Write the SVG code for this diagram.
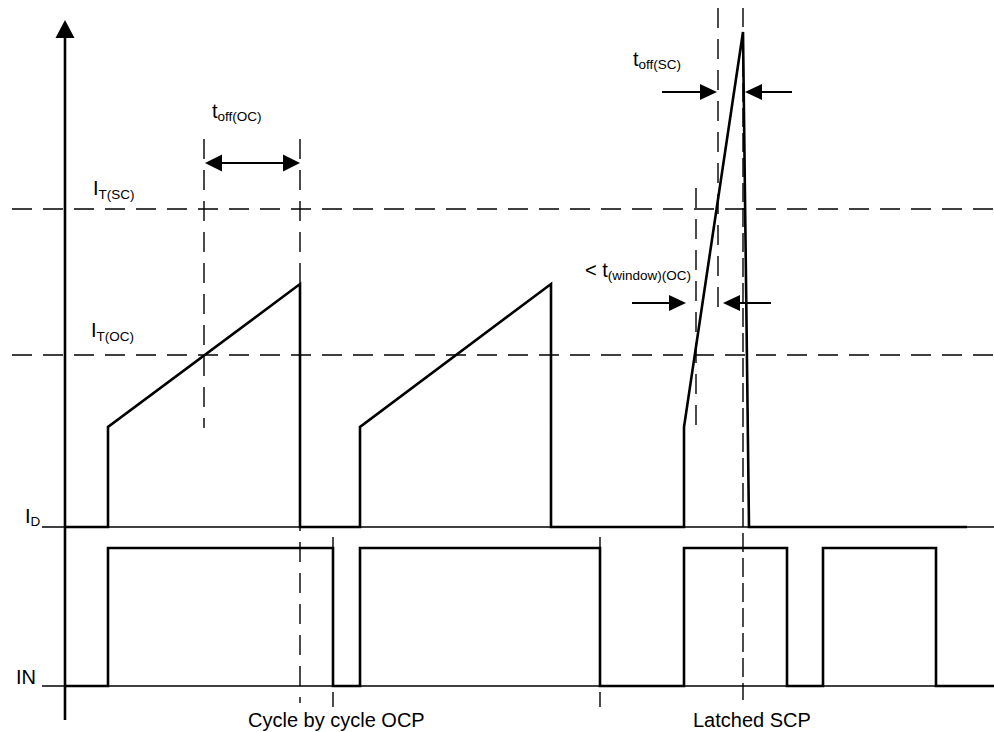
<svg xmlns="http://www.w3.org/2000/svg" width="994" height="732" viewBox="0 0 994 732">
<style>
  .txt { font-family: "Liberation Sans", Arial, sans-serif; font-size: 20px; fill: #000; }
  .sub { font-size: 13.5px; }
  .thick { fill: none; stroke: #000; stroke-width: 2.6; stroke-linejoin: miter; }
  .thin { fill: none; stroke: #000; stroke-width: 1.4; }
  .dash { fill: none; stroke: #000; stroke-width: 1.4; stroke-dasharray: 20 11; }
  .dash2 { fill: none; stroke: #000; stroke-width: 1.4; stroke-dasharray: 19 6; }
  .arr { fill: none; stroke: #000; stroke-width: 2; }
  .head { fill: #000; stroke: none; }
</style>
<rect width="994" height="732" fill="#fff"/>

<g id="axes">
  <line class="thick" x1="65" y1="36" x2="65" y2="720"/>
  <polygon class="head" points="65,20 55.5,38 74.5,38"/>
  <line class="thin" x1="42" y1="527" x2="994" y2="527"/>
  <line class="thin" x1="42" y1="686" x2="994" y2="686"/>
</g>

<g id="thresholds">
  <line class="dash" x1="12" y1="209" x2="994" y2="209"/>
  <line class="dash" x1="12" y1="355" x2="994" y2="355"/>
</g>

<g id="guides">
  <line class="dash" x1="204" y1="139" x2="204" y2="428"/>
  <line class="dash" x1="300" y1="139" x2="300" y2="703"/>
  <line class="dash" x1="333" y1="537" x2="333" y2="707"/>
  <line class="dash" x1="600" y1="537" x2="600" y2="707"/>
  <line class="dash" x1="696" y1="188" x2="696" y2="433"/>
  <line class="dash" x1="718" y1="8" x2="718" y2="317"/>
  <line class="dash2" x1="743" y1="8" x2="743" y2="700"/>
</g>

<g id="id-waveform">
  <polyline class="thick" points="65,527 108,527 108,427 300,284 300,527 360,527 360,427 551,284 551,527 684,527 684,427 743,32 749,527 967,527"/>
</g>

<g id="in-waveform">
  <polyline class="thick" points="65,686 108,686 108,548 333,548 333,686 360,686 360,548 600,548 600,686 684,686 684,548 787,548 787,686 823,686 823,548 936,548 936,686 994,686"/>
</g>

<g id="connectors">
  <g id="toff-oc-arrow">
    <line class="arr" x1="220" y1="163" x2="285" y2="163"/>
    <polygon class="head" points="205,163 222,154.5 222,171.5"/>
    <polygon class="head" points="300,163 283,154.5 283,171.5"/>
  </g>
  <g id="toff-sc-arrows">
    <line class="arr" x1="662" y1="92" x2="702" y2="92"/>
    <polygon class="head" points="717,92 700,84 700,100"/>
    <line class="arr" x1="760" y1="92" x2="792" y2="92"/>
    <polygon class="head" points="745,92 762,84 762,100"/>
  </g>
  <g id="window-arrows">
    <line class="arr" x1="632" y1="303" x2="671" y2="303"/>
    <polygon class="head" points="686,303 669,295 669,311"/>
    <line class="arr" x1="738" y1="303" x2="771" y2="303"/>
    <polygon class="head" points="723,303 740,295 740,311"/>
  </g>
</g>

<g id="labels">
  <text class="txt" x="212" y="118">t<tspan class="sub" dy="3">off(OC)</tspan></text>
  <text class="txt" x="633" y="66">t<tspan class="sub" dy="3">off(SC)</tspan></text>
  <text class="txt" x="93" y="195">I<tspan class="sub" dy="4">T(SC)</tspan></text>
  <text class="txt" x="91" y="337">I<tspan class="sub" dy="4">T(OC)</tspan></text>
  <text class="txt" x="585" y="277">&lt; t<tspan class="sub" dy="3">(window)(OC)</tspan></text>
  <text class="txt" x="25" y="523">I<tspan class="sub" dy="3">D</tspan></text>
  <text class="txt" x="16" y="684">IN</text>
  <text class="txt" x="248" y="727">Cycle by cycle OCP</text>
  <text class="txt" x="693" y="727">Latched SCP</text>
</g>
</svg>
